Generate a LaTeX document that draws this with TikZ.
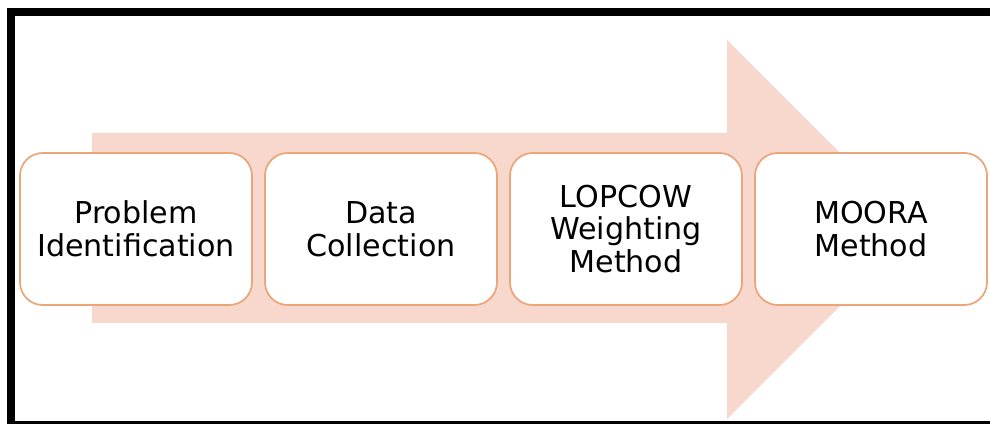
\documentclass[tikz,border=0pt]{standalone}
\usepackage{fontspec}
\setmainfont{DejaVu Sans}
\definecolor{arrowfill}{RGB}{248,216,205}
\definecolor{boxline}{RGB}{234,165,120}
\begin{document}
\begin{tikzpicture}[x=0.75pt,y=-0.75pt,
  stepbox/.style={draw=boxline,line width=1.3pt,fill=white,rounded corners=17pt,
    minimum width=174pt,minimum height=114pt,inner sep=0pt,align=center,
    font=\fontsize{22.6pt}{24.5pt}\selectfont}]
  \useasboundingbox (0,0) rectangle (990,424);

  % Frame
  \draw[line width=6pt] (1000,12) -- (11,12) -- (11,425) -- (1000,425);

  % Big arrow behind the steps
  \fill[arrowfill] (92,133) -- (727,133) -- (727,40) -- (916.5,229.5)
    -- (727,419) -- (727,323) -- (92,323) -- cycle;

  % Steps
  \foreach \i/\txt in {0/{Problem\\Identification},1/{Data\\Collection},
      2/{LOPCOW\\Weighting\\Method},3/{MOORA\\Method}} {
    \node[stepbox] (step\i) at ({136+245*\i},229) {\txt};
  }
\end{tikzpicture}
\end{document}
